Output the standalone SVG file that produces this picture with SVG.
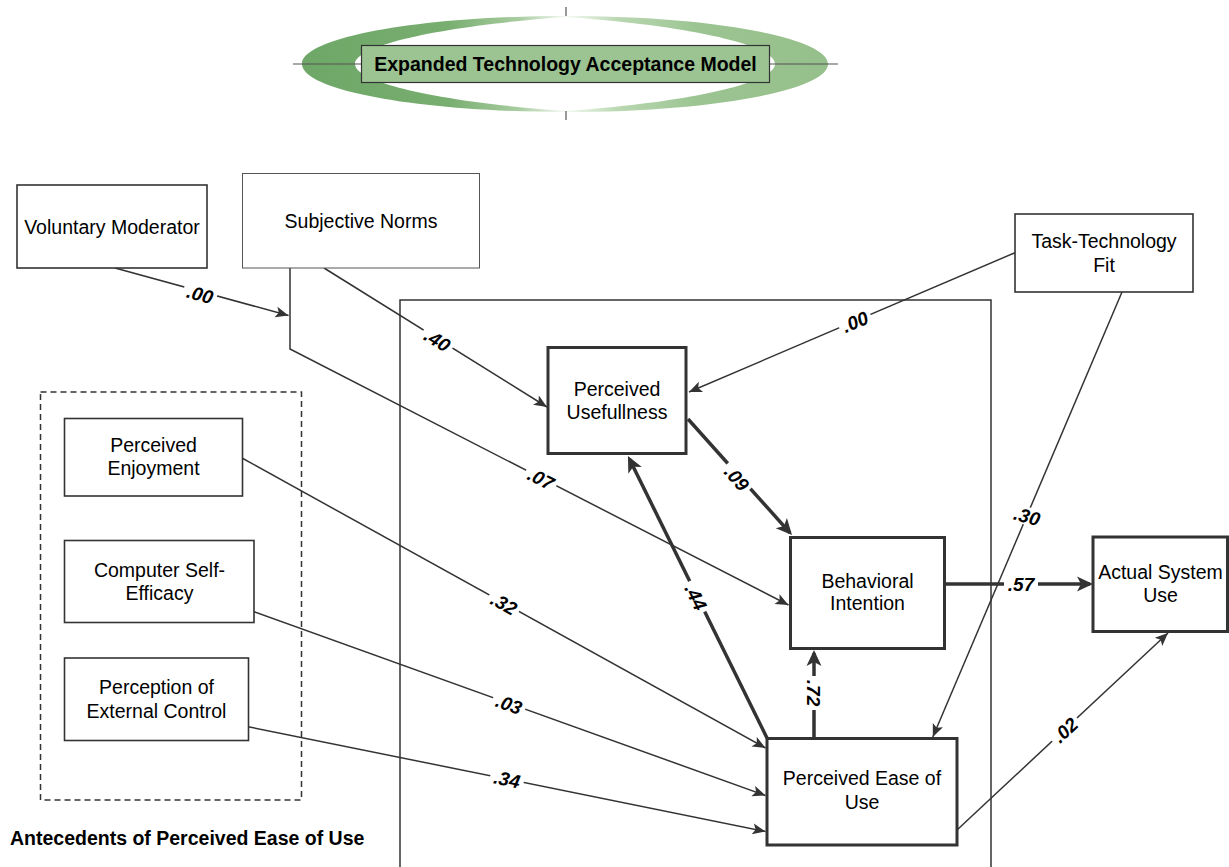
<svg xmlns="http://www.w3.org/2000/svg" width="1229" height="867" viewBox="0 0 1229 867">
  <defs>
    <style>
      .box { fill: #ffffff; stroke: #333333; stroke-width: 1.6; }
      .box-thin { fill: #ffffff; stroke: #555555; stroke-width: 1; }
      .box-core { fill: #ffffff; stroke: #333333; stroke-width: 3; }
      .lbl { font-family: "Liberation Sans", Arial, sans-serif; font-size: 19.5px; fill: #000000; text-anchor: middle; }
      .title { font-family: "Liberation Sans", Arial, sans-serif; font-size: 19.5px; font-weight: bold; fill: #000000; text-anchor: middle; }
      .caption { font-family: "Liberation Sans", Arial, sans-serif; font-size: 19.5px; font-weight: bold; fill: #000000; }
      .wt { font-family: "Liberation Sans", Arial, sans-serif; font-size: 19px; font-weight: bold; font-style: italic; fill: #000000; text-anchor: middle; }
      .wbg { fill: #ffffff; }
      .edge { fill: none; stroke: #333333; stroke-width: 1.5; }
      .edge-thick { fill: none; stroke: #333333; stroke-width: 3.5; }
      .frame { fill: none; stroke: #333333; stroke-width: 1.5; }
      .dash { fill: none; stroke: #333333; stroke-width: 1.5; stroke-dasharray: 6 4; }
    </style>
    <marker id="arr" markerUnits="userSpaceOnUse" markerWidth="16" markerHeight="14" viewBox="-14 -7 16 14" refX="0" refY="0" orient="auto">
      <path d="M0,0 L-13,-5.5 L-10,0 L-13,5.5 Z" fill="#333333"/>
    </marker>
    <marker id="arr-thick" markerUnits="userSpaceOnUse" markerWidth="20" markerHeight="18" viewBox="-17 -9 20 18" refX="-3" refY="0" orient="auto">
      <path d="M0,0 L-16,-7.5 L-12,0 L-16,7.5 Z" fill="#333333"/>
    </marker>
    <linearGradient id="gLeft" gradientUnits="userSpaceOnUse" x1="302" y1="0" x2="566" y2="0">
      <stop offset="0" stop-color="#6ea767"/>
      <stop offset="0.55" stop-color="#78ae70"/>
      <stop offset="0.82" stop-color="#a8cc9f"/>
      <stop offset="1" stop-color="#f4f9f3"/>
    </linearGradient>
    <linearGradient id="gRight" gradientUnits="userSpaceOnUse" x1="566" y1="0" x2="828" y2="0">
      <stop offset="0" stop-color="#f4f9f3"/>
      <stop offset="0.2" stop-color="#b9d7b1"/>
      <stop offset="0.5" stop-color="#9cc492"/>
      <stop offset="1" stop-color="#95bf8b"/>
    </linearGradient>
  </defs>

  <rect x="0" y="0" width="1229" height="867" fill="#ffffff"/>

  <!-- title emblem -->
  <g id="title">
    <path d="M566,16 C420,16 302,37.5 302,64 C302,90.5 420,112 566,112 L566,111 C450,103 355,84 355,64 C355,44 450,25 566,17 Z" fill="url(#gLeft)"/>
    <path d="M566,16 C711,16 828,37.5 828,64 C828,90.5 711,112 566,112 L566,111 C682,103 775,84 775,64 C775,44 682,25 566,17 Z" fill="url(#gRight)"/>
    <line x1="293" y1="64" x2="838" y2="64" stroke="#555555" stroke-width="1.2"/>
    <line x1="566" y1="7" x2="566" y2="16" stroke="#555555" stroke-width="1.2"/>
    <line x1="566" y1="111" x2="566" y2="120" stroke="#555555" stroke-width="1.2"/>
    <rect x="361.5" y="45.5" width="408" height="37" fill="#9cc493" stroke="#333333" stroke-width="1.2"/>
    <text class="title" x="565.5" y="70.5">Expanded Technology Acceptance Model</text>
  </g>

  <!-- model frame and antecedent group -->
  <rect id="model-frame" class="frame" x="400" y="300" width="591" height="600"/>
  <rect id="antecedents" class="dash" x="40.5" y="392" width="261" height="408"/>
  <text id="antecedents-caption" class="caption" x="10" y="845">Antecedents of Perceived Ease of Use</text>

  <!-- connectors -->
  <g id="connectors">
    <line class="edge" x1="115" y1="268" x2="288.5" y2="315.5" marker-end="url(#arr)"/>
    <polyline class="edge" points="290,268 290,349 788.5,605" marker-end="url(#arr)"/>
    <line class="edge" x1="324" y1="268" x2="547" y2="407" marker-end="url(#arr)"/>
    <line class="edge" x1="1015" y1="252.7" x2="689" y2="392" marker-end="url(#arr)"/>
    <line class="edge" x1="1122" y1="292" x2="932.8" y2="737" marker-end="url(#arr)"/>
    <line class="edge" x1="957" y1="830" x2="1168" y2="633" marker-end="url(#arr)"/>
    <line class="edge" x1="242" y1="458" x2="765.5" y2="748" marker-end="url(#arr)"/>
    <line class="edge" x1="254" y1="611.7" x2="765.5" y2="795.5" marker-end="url(#arr)"/>
    <line class="edge" x1="248" y1="726.7" x2="765.5" y2="831.5" marker-end="url(#arr)"/>
    <line class="edge-thick" x1="688" y1="419" x2="790" y2="532.8" marker-end="url(#arr-thick)"/>
    <line class="edge-thick" x1="767" y1="738" x2="629.3" y2="458.7" marker-end="url(#arr-thick)"/>
    <line class="edge-thick" x1="814" y1="738" x2="814" y2="653" marker-end="url(#arr-thick)"/>
    <line class="edge-thick" x1="945" y1="584" x2="1090" y2="584" marker-end="url(#arr-thick)"/>

    <!-- path weights -->
    <g transform="translate(200,294) rotate(15.3)"><rect class="wbg" x="-17" y="-5" width="34" height="10"/><text class="wt" y="7">.00</text></g>
    <g transform="translate(541,478.5) rotate(27.2)"><rect class="wbg" x="-17" y="-5" width="34" height="10"/><text class="wt" y="7">.07</text></g>
    <g transform="translate(437.5,340) rotate(32)"><rect class="wbg" x="-17" y="-5" width="34" height="10"/><text class="wt" y="7">.40</text></g>
    <g transform="translate(855,321.5) rotate(-23.2)"><rect class="wbg" x="-17" y="-5" width="34" height="10"/><text class="wt" y="7">.00</text></g>
    <g transform="translate(1027,516) rotate(15)"><rect class="wbg" x="-17" y="-9" width="34" height="18"/><text class="wt" y="7">.30</text></g>
    <g transform="translate(737,478) rotate(48)"><rect class="wbg" x="-17" y="-6" width="34" height="12"/><text class="wt" y="7">.09</text></g>
    <g transform="translate(696,597) rotate(63.8)"><rect class="wbg" x="-17" y="-6" width="34" height="12"/><text class="wt" y="7">.44</text></g>
    <g transform="translate(814,693) rotate(90)"><rect class="wbg" x="-17" y="-6" width="34" height="12"/><text class="wt" y="7">.72</text></g>
    <g transform="translate(1021,583.5)"><rect class="wbg" x="-17" y="-6" width="34" height="12"/><text class="wt" y="7">.57</text></g>
    <g transform="translate(1065,730) rotate(-43)"><rect class="wbg" x="-17" y="-5" width="34" height="10"/><text class="wt" y="7">.02</text></g>
    <g transform="translate(504,603.5) rotate(29)"><rect class="wbg" x="-17" y="-5" width="34" height="10"/><text class="wt" y="7">.32</text></g>
    <g transform="translate(509,704) rotate(19.8)"><rect class="wbg" x="-17" y="-5" width="34" height="10"/><text class="wt" y="7">.03</text></g>
    <g transform="translate(507,779) rotate(11.4)"><rect class="wbg" x="-17" y="-5" width="34" height="10"/><text class="wt" y="7">.34</text></g>
  </g>

  <!-- nodes -->
  <g id="voluntary-moderator">
    <rect class="box" x="17" y="185" width="190" height="83"/>
    <text class="lbl" x="112" y="233.5">Voluntary Moderator</text>
  </g>
  <g id="subjective-norms">
    <rect class="box-thin" x="242.5" y="173.5" width="237" height="94.5"/>
    <text class="lbl" x="361" y="227.5">Subjective Norms</text>
  </g>
  <g id="task-technology-fit">
    <rect class="box" x="1015" y="214" width="178" height="78"/>
    <text class="lbl" x="1104" y="247.5">Task-Technology</text>
    <text class="lbl" x="1104" y="272">Fit</text>
  </g>
  <g id="perceived-usefulness">
    <rect class="box-core" x="548" y="347.5" width="138" height="106"/>
    <text class="lbl" x="617" y="396">Perceived</text>
    <text class="lbl" x="617" y="418.5">Usefullness</text>
  </g>
  <g id="behavioral-intention">
    <rect class="box-core" x="790.5" y="537.5" width="154" height="111"/>
    <text class="lbl" x="867.5" y="587.5">Behavioral</text>
    <text class="lbl" x="867.5" y="610">Intention</text>
  </g>
  <g id="actual-system-use">
    <rect class="box-core" x="1093" y="537" width="134.5" height="94.5"/>
    <text class="lbl" x="1160.5" y="578.5">Actual System</text>
    <text class="lbl" x="1160.5" y="602">Use</text>
  </g>
  <g id="perceived-ease-of-use">
    <rect class="box-core" x="767" y="738.5" width="190" height="106.5"/>
    <text class="lbl" x="862" y="785">Perceived Ease of</text>
    <text class="lbl" x="862" y="808.5">Use</text>
  </g>
  <g id="perceived-enjoyment">
    <rect class="box" x="64.5" y="418.5" width="178" height="77.5"/>
    <text class="lbl" x="153.5" y="451.5">Perceived</text>
    <text class="lbl" x="153.5" y="475">Enjoyment</text>
  </g>
  <g id="computer-self-efficacy">
    <rect class="box" x="64.5" y="540.5" width="189.5" height="82"/>
    <text class="lbl" x="159.5" y="577">Computer Self-</text>
    <text class="lbl" x="159.5" y="600">Efficacy</text>
  </g>
  <g id="perception-of-external-control">
    <rect class="box" x="64.5" y="658" width="184" height="82.5"/>
    <text class="lbl" x="156.5" y="694">Perception of</text>
    <text class="lbl" x="156.5" y="718">External Control</text>
  </g>
</svg>
